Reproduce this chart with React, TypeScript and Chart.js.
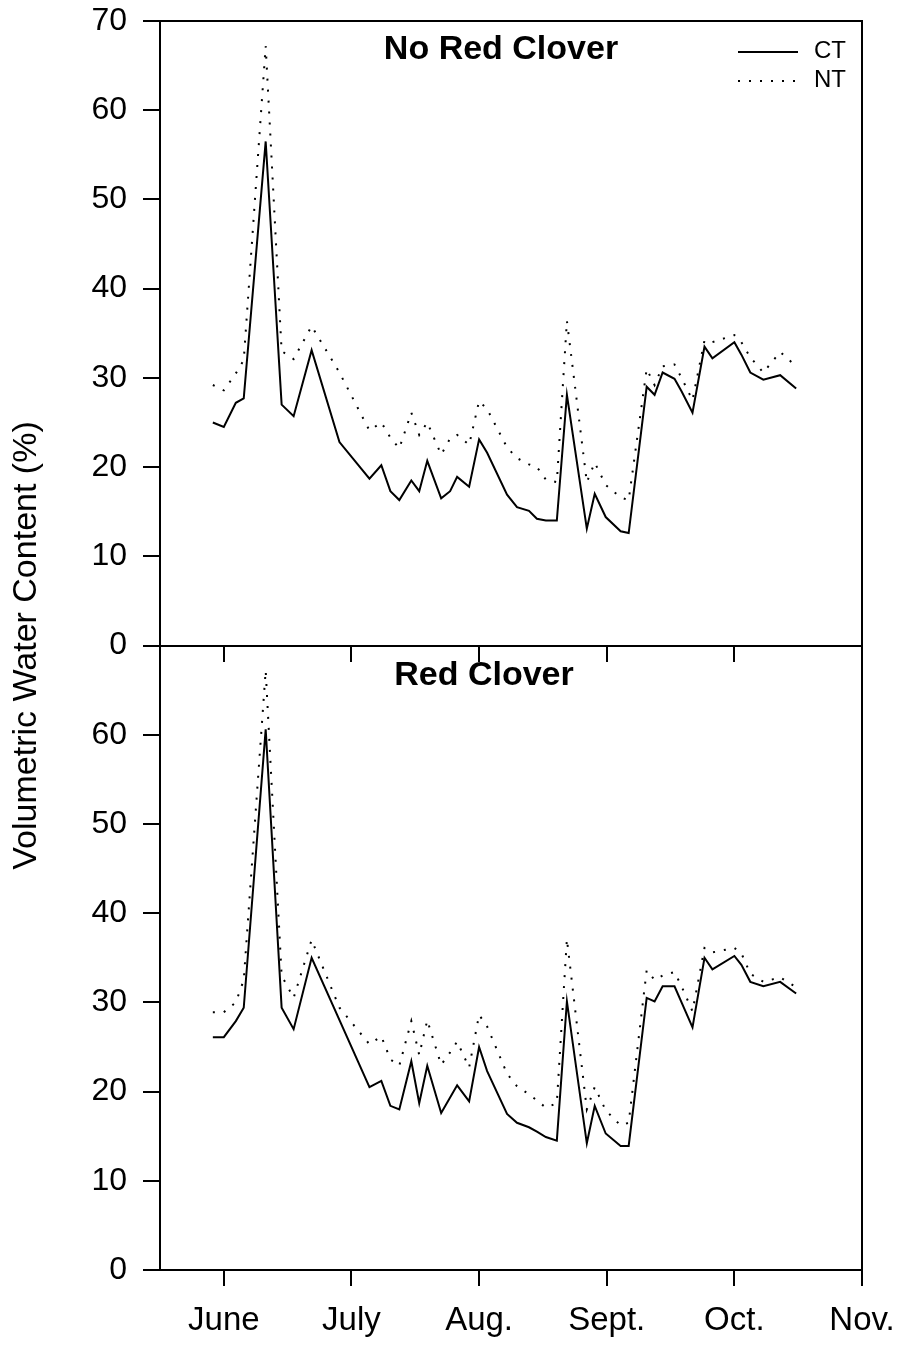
import React, { useEffect, useRef } from "react";
import { Chart, registerables } from "chart.js";

Chart.register(...registerables);

// Sampling dates, in months after 1 June (0 = 1 June, 1 = 1 July, ...)
const sampleMonths = [
  -0.086, 0, 0.094, 0.156, 0.328, 0.453, 0.547, 0.688, 0.906, 1.141,
  1.234, 1.305, 1.375, 1.469, 1.531, 1.594, 1.703, 1.773, 1.828, 1.922,
  2.0, 2.063, 2.219, 2.297, 2.391, 2.453, 2.523, 2.609, 2.688, 2.844,
  2.906, 2.992, 3.109, 3.172, 3.313, 3.375, 3.438, 3.531, 3.586, 3.672,
  3.766, 3.828, 4.0, 4.055, 4.125, 4.227, 4.359, 4.484,
];

// Volumetric water content (%), plots without red clover
const noCloverCT = [
  25.0, 24.5, 27.2, 27.7, 56.5, 27.0, 25.7, 33.1, 22.8, 18.7,
  20.2, 17.3, 16.3, 18.5, 17.3, 20.7, 16.5, 17.3, 18.9, 17.8,
  23.1, 21.6, 16.9, 15.5, 15.1, 14.2, 14.0, 14.0, 28.1, 13.1,
  17.0, 14.4, 12.8, 12.6, 29.0, 28.1, 30.6, 29.9, 28.5, 26.1,
  33.5, 32.2, 34.0, 32.6, 30.6, 29.8, 30.3, 28.8,
];
const noCloverNT = [
  29.2, 28.6, 30.5, 32.0, 67.2, 33.0, 32.1, 35.8, 30.6, 24.1,
  25.0, 23.3, 22.1, 26.1, 23.6, 25.0, 21.4, 23.2, 23.6, 22.5,
  27.4, 26.5, 22.2, 21.0, 20.3, 20.0, 18.6, 18.3, 36.4, 18.3,
  20.5, 18.0, 16.6, 16.3, 31.0, 29.2, 31.3, 31.5, 30.0, 27.5,
  34.2, 34.0, 34.8, 34.0, 32.3, 30.6, 32.9, 31.3,
];

// Volumetric water content (%), plots with red clover
const cloverCT = [
  26.1, 26.1, 27.9, 29.4, 60.6, 29.4, 27.0, 35.0, null, 20.5,
  21.2, 18.4, 18.0, 23.4, 18.7, 22.9, 17.6, null, 20.7, 18.9,
  25.0, 22.3, 17.5, 16.5, 16.0, 15.5, 14.9, 14.5, 30.1, 14.2,
  18.4, 15.3, 13.9, 13.9, 30.5, 30.1, 31.8, 31.8, null, 27.2,
  35.0, 33.7, 35.2, 34.2, 32.3, 31.8, 32.3, 31.0,
];
const cloverNT = [
  28.9, 28.9, 30.0, 32.5, 67.2, 33.0, 30.5, 37.0, 29.4, 25.3,
  26.2, 23.6, 22.9, 27.9, 24.1, 28.0, 23.0, 24.4, 25.6, 22.7,
  28.6, 27.3, 22.0, 20.6, 19.7, 19.0, 18.2, 18.7, 37.1, 18.0,
  20.5, 17.9, 16.2, 16.5, 33.6, 32.5, 33.0, 33.4, 31.8, 29.0,
  36.1, 35.6, 36.1, 35.5, 33.2, 32.3, 32.8, 31.7,
];

const monthTicks = [0, 1, 2, 3, 4, 5];
const monthLabels = ["June", "July", "Aug.", "Sept.", "Oct.", "Nov."];
const seriesNames = ["CT", "NT"];
const panelTitles = ["No Red Clover", "Red Clover"];
const yAxisTitle = "Volumetric Water Content (%)";

const FONT = "'Liberation Sans', Arial, Helvetica, sans-serif";
const BLACK = "#000";

const toPoints = (values: (number | null)[]) =>
  sampleMonths.map((m, i) => ({ x: m, y: values[i] }));

const axisLine = { display: true, color: BLACK, width: 2 };
const tickMarks = (length: number) => ({
  display: true,
  drawOnChartArea: false,
  drawTicks: true,
  tickLength: length,
  color: BLACK,
  lineWidth: 2,
});
const monthTickValues = (scale: any) => {
  scale.ticks = monthTicks.map((v) => ({ value: v }));
};

// Panel headings and the CT / NT key, drawn inside the plot frame
const panelText = {
  id: "panelText",
  afterDraw(chart: any) {
    const { ctx, chartArea, scales } = chart;
    ctx.save();
    ctx.fillStyle = BLACK;
    ctx.textBaseline = "middle";
    ctx.textAlign = "center";
    ctx.font = `bold 34px ${FONT}`;
    ctx.fillText(panelTitles[0], chartArea.left + 341, scales.yTop.top + 29);
    ctx.fillText(panelTitles[1], chartArea.left + 324, scales.yBot.top + 30);

    const x1 = chartArea.right - 124;
    const x2 = chartArea.right - 64;
    [0, 1].forEach((i) => {
      const ds = chart.data.datasets[i];
      const y = chartArea.top + 31 + i * 29;
      ctx.beginPath();
      ctx.strokeStyle = ds.borderColor;
      ctx.lineWidth = ds.borderWidth;
      ctx.setLineDash(ds.borderDash || []);
      ctx.moveTo(x1, y);
      ctx.lineTo(x2, y);
      ctx.stroke();
      ctx.setLineDash([]);
      ctx.font = `24px ${FONT}`;
      ctx.textAlign = "right";
      ctx.fillText(ds.label, chartArea.right - 16, y - 1);
    });
    ctx.restore();
  },
};

export default function App() {
  const canvasRef = useRef<HTMLCanvasElement | null>(null);

  useEffect(() => {
    const canvas = canvasRef.current;
    if (!canvas) return;

    const lineStyle = (dashed: boolean) => ({
      borderColor: BLACK,
      backgroundColor: BLACK,
      borderWidth: 2,
      borderDash: dashed ? [2, 9] : [],
      pointRadius: 0,
      tension: 0,
      spanGaps: true,
      fill: false,
    });

    const chart = new Chart(canvas, {
      type: "line",
      data: {
        datasets: [
          { label: seriesNames[0], data: toPoints(noCloverCT), xAxisID: "x", yAxisID: "yTop", ...lineStyle(false) },
          { label: seriesNames[1], data: toPoints(noCloverNT), xAxisID: "x", yAxisID: "yTop", ...lineStyle(true) },
          { label: seriesNames[0], data: toPoints(cloverCT), xAxisID: "x", yAxisID: "yBot", ...lineStyle(false) },
          { label: seriesNames[1], data: toPoints(cloverNT), xAxisID: "x", yAxisID: "yBot", ...lineStyle(true) },
        ],
      },
      options: {
        animation: false,
        responsive: false,
        maintainAspectRatio: false,
        devicePixelRatio: 1,
        layout: { padding: 0, autoPadding: false },
        plugins: {
          legend: { display: false },
          title: { display: false },
          tooltip: { enabled: false },
        },
        scales: {
          x: {
            type: "linear",
            axis: "x",
            position: "bottom",
            min: -0.5,
            max: 5,
            afterBuildTicks: monthTickValues,
            ticks: {
              callback: (_v: any, i: number) => monthLabels[i] ?? "",
              font: { family: FONT, size: 33 },
              color: BLACK,
              padding: 15,
              maxRotation: 0,
              autoSkip: false,
            },
            grid: tickMarks(16),
            border: axisLine,
            afterFit: (s: any) => {
              s.height = 75;
              s.paddingLeft = 0;
              s.paddingRight = 0;
            },
          },
          xMid: {
            type: "linear",
            axis: "x",
            position: { yBot: 70 },
            min: -0.5,
            max: 5,
            afterBuildTicks: monthTickValues,
            ticks: { display: false },
            grid: tickMarks(15),
            border: axisLine,
            afterFit: (s: any) => {
              s.paddingLeft = 0;
              s.paddingRight = 0;
            },
          },
          xTop: {
            type: "linear",
            axis: "x",
            position: "top",
            min: -0.5,
            max: 5,
            ticks: { display: false },
            grid: { display: false, drawTicks: false },
            border: axisLine,
            afterFit: (s: any) => {
              s.height = 21;
              s.paddingLeft = 0;
              s.paddingRight = 0;
            },
          },
          yBot: {
            type: "linear",
            axis: "y",
            position: "left",
            stack: "panels",
            stackWeight: 1,
            min: 0,
            max: 70,
            ticks: {
              stepSize: 10,
              callback: (v: any) => (v === 70 ? "" : String(v)),
              font: { family: FONT, size: 32 },
              color: BLACK,
              padding: 16,
            },
            grid: tickMarks(17),
            border: axisLine,
            afterFit: (s: any) => {
              s.width = 108;
              s.paddingTop = 0;
              s.paddingBottom = 0;
            },
          },
          yTop: {
            type: "linear",
            axis: "y",
            position: "left",
            stack: "panels",
            stackWeight: 1,
            min: 0,
            max: 70,
            ticks: {
              stepSize: 10,
              callback: (v: any) => String(v),
              font: { family: FONT, size: 32 },
              color: BLACK,
              padding: 16,
            },
            grid: tickMarks(17),
            border: axisLine,
            afterFit: (s: any) => {
              s.width = 108;
              s.paddingTop = 0;
              s.paddingBottom = 0;
            },
          },
          yLabel: {
            type: "linear",
            axis: "y",
            position: "left",
            weight: 1,
            ticks: { display: false },
            grid: { display: false, drawTicks: false },
            border: { display: false },
            title: {
              display: true,
              text: yAxisTitle,
              color: BLACK,
              font: { family: FONT, size: 34 },
              padding: { top: 6, bottom: 0 },
            },
            afterFit: (s: any) => {
              s.width = 52;
              s.paddingTop = 0;
              s.paddingBottom = 0;
            },
          },
          yRight: {
            type: "linear",
            axis: "y",
            position: "right",
            ticks: { display: false },
            grid: { display: false, drawTicks: false },
            border: axisLine,
            afterFit: (s: any) => {
              s.width = 42;
              s.paddingTop = 0;
              s.paddingBottom = 0;
            },
          },
        },
      } as any,
      plugins: [panelText],
    });

    return () => chart.destroy();
  }, []);

  return (
    <div style={{ position: "absolute", left: 0, top: 0, width: 904, height: 1345, background: "#fff" }}>
      <canvas ref={canvasRef} width={904} height={1345} style={{ display: "block" }} />
    </div>
  );
}
